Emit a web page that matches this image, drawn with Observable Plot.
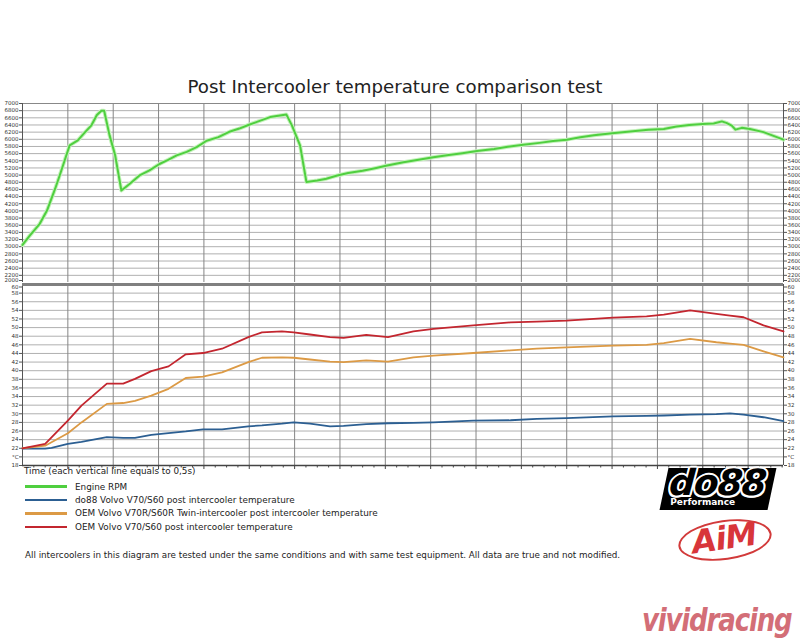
<!DOCTYPE html>
<html><head><meta charset="utf-8">
<script src="https://cdn.jsdelivr.net/npm/d3@7"></script>
<script src="https://cdn.jsdelivr.net/npm/@observablehq/plot@0.6"></script>
<style>
body{margin:0;background:#fff;}
#chart{position:relative;width:800px;height:640px;background:#fff;overflow:hidden;font-family:"DejaVu Sans",Verdana,sans-serif;color:#222;}
#chart svg{position:absolute;left:0;}
.title{position:absolute;left:-5px;top:76px;width:800px;text-align:center;font-size:18.2px;line-height:22px;color:#222;}
.xlabel{position:absolute;left:24px;top:464px;font-size:8.8px;line-height:14px;color:#222;}
.legend{position:absolute;left:25px;top:480px;}
.legend .row{height:13.4px;display:flex;align-items:center;font-size:8.85px;color:#222;}
.legend .sw{display:inline-block;width:42px;height:2.5px;margin-right:8px;}
.foot{position:absolute;left:25px;top:548px;font-size:8.75px;line-height:14px;color:#222;white-space:nowrap;}
.do88{position:absolute;left:664px;top:468px;width:108px;height:42px;background:#000;transform:skewX(-12deg);}
.do88 .big{position:absolute;left:4px;top:-6px;font-size:36px;font-weight:bold;font-style:italic;color:#000;letter-spacing:-1px;
  text-shadow:-1.5px -1.5px 0 #fff,1.5px -1.5px 0 #fff,-1.5px 1.5px 0 #fff,1.5px 1.5px 0 #fff,0 2px 0 #fff,0 -2px 0 #fff,2px 0 0 #fff,-2px 0 0 #fff;transform:skewX(8deg);}
.do88 .small{position:absolute;left:9px;top:29px;font-size:9px;font-weight:bold;color:#fff;transform:skewX(12deg);}
.aim{position:absolute;left:678px;top:520px;width:90px;height:36px;border:2px solid #d23a3a;border-radius:50%;transform:rotate(-8deg);}
.aim span{position:absolute;left:12px;top:-3px;font-size:32px;font-weight:bold;font-style:italic;color:#d8353a;letter-spacing:-1px;}
.vivid{position:absolute;left:642px;top:601px;font-family:"DejaVu Sans Condensed","DejaVu Sans",sans-serif;font-size:29px;font-weight:bold;font-style:italic;color:#cc5560;letter-spacing:-1.2px;transform:scaleY(1.12);transform-origin:top left;opacity:0.85;}
</style></head><body>
<div id="chart">
  <div class="title">Post Intercooler temperature comparison test</div>
</div>
<script>
// ---------- data ----------
const rpmTime = [0, 0.08, 0.19, 0.27, 0.36, 0.41, 0.47, 0.52, 0.61, 0.69, 0.76, 0.82, 0.87, 0.90, 0.96, 1.02, 1.09, 1.18, 1.29, 1.40, 1.51, 1.60, 1.70, 1.81, 1.92, 2.03, 2.16, 2.29, 2.39, 2.49, 2.60, 2.73, 2.82, 2.91, 2.97, 3.06, 3.13, 3.25, 3.35, 3.47, 3.59, 3.75, 3.90, 4.02, 4.20, 4.35, 4.53, 4.70, 4.85, 5.01, 5.20, 5.35, 5.52, 5.70, 5.85, 6.00, 6.15, 6.30, 6.50, 6.70, 6.90, 7.07, 7.21, 7.35, 7.50, 7.62, 7.71, 7.76, 7.82, 7.86, 7.93, 8.02, 8.17, 8.39];
const rpmValues = [3050, 3310, 3640, 4010, 4620, 4990, 5450, 5830, 5970, 6200, 6390, 6680, 6800, 6800, 6110, 5570, 4570, 4750, 4990, 5130, 5310, 5420, 5550, 5650, 5780, 5960, 6060, 6220, 6300, 6400, 6500, 6620, 6660, 6690, 6390, 5830, 4810, 4850, 4900, 4990, 5060, 5120, 5200, 5270, 5360, 5420, 5500, 5560, 5610, 5670, 5730, 5790, 5850, 5900, 5950, 5990, 6060, 6110, 6170, 6220, 6270, 6290, 6360, 6400, 6430, 6440, 6500, 6460, 6380, 6270, 6320, 6290, 6200, 5990];

const tempTime = [0, 0.25, 0.32, 0.5, 0.65, 0.93, 1.11, 1.24, 1.42, 1.61, 1.80, 1.99, 2.20, 2.49, 2.64, 2.86, 2.99, 3.17, 3.39, 3.54, 3.79, 4.03, 4.31, 4.53, 4.97, 5.38, 5.67, 6.0, 6.51, 6.88, 7.07, 7.36, 7.65, 7.80, 7.95, 8.17, 8.39];
const oemTemp = [22.0, 23.0, 24.5, 28.4, 31.9, 37.0, 37.0, 38.1, 39.9, 41.0, 43.8, 44.1, 45.1, 47.8, 48.9, 49.1, 48.9, 48.4, 47.8, 47.6, 48.3, 47.8, 49.1, 49.7, 50.5, 51.2, 51.4, 51.6, 52.3, 52.6, 53.0, 54.0, 53.2, 52.8, 52.4, 50.5, 49.1];
const twinTemp = [22.0, 22.6, 23.4, 25.5, 28.0, 32.3, 32.5, 33.0, 34.2, 35.8, 38.3, 38.6, 39.6, 42.0, 43.0, 43.1, 43.0, 42.6, 42.1, 42.0, 42.4, 42.1, 43.1, 43.5, 44.1, 44.7, 45.1, 45.4, 45.8, 46.0, 46.4, 47.4, 46.6, 46.3, 46.0, 44.5, 43.1];
const do88Temp = [21.9, 21.9, 22.1, 23.0, 23.5, 24.6, 24.4, 24.4, 25.1, 25.5, 25.9, 26.4, 26.4, 27.1, 27.3, 27.7, 28.0, 27.7, 27.1, 27.2, 27.6, 27.8, 27.9, 28.0, 28.4, 28.5, 28.8, 29.0, 29.4, 29.5, 29.6, 29.8, 29.9, 30.1, 29.8, 29.2, 28.3];

const rpmTicks = [2200, 2400, 2600, 2800, 3000, 3200, 3400, 3600, 3800, 4000, 4200, 4400, 4600, 4800, 5000, 5200, 5400, 5600, 5800, 6000, 6200, 6400, 6600, 6800, 7000];
const rpmBottomTick = [2000];
const tempTicks = [18, 20, 22, 24, 26, 28, 30, 32, 34, 36, 38, 40, 42, 44, 46, 48, 50, 52, 54, 56, 58];
const tempTopTick = [60];
const timeLines = [0.5, 1, 1.5, 2, 2.5, 3, 3.5, 4, 4.5, 5, 5.5, 6, 6.5, 7, 7.5, 8];
const minorTimeTicks = [0.125, 0.25, 0.375, 0.625, 0.75, 0.875, 1.125, 1.25, 1.375, 1.625, 1.75, 1.875, 2.125, 2.25, 2.375, 2.625, 2.75, 2.875, 3.125, 3.25, 3.375, 3.625, 3.75, 3.875, 4.125, 4.25, 4.375, 4.625, 4.75, 4.875, 5.125, 5.25, 5.375, 5.625, 5.75, 5.875, 6.125, 6.25, 6.375, 6.625, 6.75, 6.875, 7.125, 7.25, 7.375, 7.625, 7.75, 7.875, 8.125, 8.25, 8.375];
const timeDomain = [0, 8.39];

const legendLabels = ["Engine RPM", "do88 Volvo V70/S60 post intercooler temperature", "OEM Volvo V70R/S60R Twin-intercooler post intercooler temperature", "OEM Volvo V70/S60 post intercooler temperature"];
const seriesColors = ["#4fcf3f", "#2c5f92", "#dc9a45", "#c3262f"];

// ---------- tables ----------
const rpmData = rpmTime.map((t, i) => ({t, v: rpmValues[i]}));
const tempData = [];
[["do88", do88Temp], ["twin", twinTemp], ["oem", oemTemp]].forEach(([k, arr]) => {
  arr.forEach((v, i) => tempData.push({series: k, t: tempTime[i], v}));
});

const axisStyle = {fontFamily: "DejaVu Sans, sans-serif", color: "#333", background: "transparent", overflow: "visible"};
const tempFmt = d => d === 20 ? "°C" : d;
const ax = (ticks, anchor, fmt, dy) => Plot.axisY(ticks, {anchor, tickSize: 3, tickPadding: 1, tickFormat: fmt, label: null, fontSize: 5.5, stroke: "#555", dy});

// ---------- top panel: RPM ----------
const topPlot = Plot.plot({
  width: 800, height: 190,
  marginTop: 5, marginBottom: 6, marginLeft: 22, marginRight: 17,
  style: axisStyle,
  x: {domain: timeDomain, axis: null},
  y: {domain: [2000, 7000], axis: null},
  marks: [
    Plot.gridY(rpmTicks, {stroke: "#b0b0b0", strokeOpacity: 1}),
    Plot.gridX(timeLines, {stroke: "#858585", strokeOpacity: 1}),
    Plot.ruleY([7000], {stroke: "#888"}),
    Plot.ruleX([timeDomain[0]], {stroke: "#555"}),
    Plot.ruleX([timeDomain[1]], {stroke: "#555"}),
    ax(rpmTicks, "left", "d", 0),
    ax(rpmTicks, "right", "d", 0),
    ax(rpmBottomTick, "left", "d", -2),
    ax(rpmBottomTick, "right", "d", -2),
    Plot.line(rpmData, {x: "t", y: "v", stroke: "#c6f2bd", strokeWidth: 4}),
    Plot.line(rpmData, {x: "t", y: "v", stroke: seriesColors[0], strokeWidth: 2})
  ]
});
topPlot.style.top = "98px";

// ---------- bottom panel: temperatures ----------
const bottomPlot = Plot.plot({
  width: 800, height: 200,
  marginTop: 5, marginBottom: 14, marginLeft: 22, marginRight: 17,
  style: axisStyle,
  x: {domain: timeDomain, axis: null},
  y: {domain: [18, 60], axis: null},
  color: {domain: ["do88", "twin", "oem"], range: seriesColors.slice(1)},
  marks: [
    Plot.gridY(tempTicks, {stroke: "#b0b0b0", strokeOpacity: 1}),
    Plot.gridX(timeLines, {stroke: "#858585", strokeOpacity: 1}),
    Plot.ruleX([timeDomain[0]], {stroke: "#555"}),
    Plot.ruleX([timeDomain[1]], {stroke: "#555"}),
    ax(tempTicks, "left", tempFmt, 0),
    ax(tempTicks, "right", tempFmt, 0),
    ax(tempTopTick, "left", tempFmt, 2.5),
    ax(tempTopTick, "right", tempFmt, 2.5),
    Plot.axisX(minorTimeTicks, {anchor: "bottom", tickSize: 2.5, tickFormat: () => "", label: null, stroke: "#444"}),
    Plot.axisX(timeLines, {anchor: "bottom", tickSize: 4, tickFormat: () => "", label: null, stroke: "#444"}),
    Plot.line(tempData, {x: "t", y: "v", z: "series", stroke: "series", strokeWidth: 1.8}),
    Plot.ruleY([18], {stroke: "#444", strokeWidth: 1.5}),
    Plot.ruleY([60], {stroke: "#808080", strokeWidth: 3})
  ]
});
bottomPlot.style.top = "279px";

const chart = document.getElementById("chart");
chart.appendChild(topPlot);
chart.appendChild(bottomPlot);

// ---------- texts, legend ----------
const xl = document.createElement("div");
xl.className = "xlabel";
xl.textContent = "Time (each vertical line equals to 0,5s)";
chart.appendChild(xl);

const legend = document.createElement("div");
legend.className = "legend";
legendLabels.forEach((lab, i) => {
  const row = document.createElement("div");
  row.className = "row";
  const sw = document.createElement("span");
  sw.className = "sw";
  sw.style.background = seriesColors[i];
  row.appendChild(sw);
  row.appendChild(document.createTextNode(lab));
  legend.appendChild(row);
});
chart.appendChild(legend);

const foot = document.createElement("div");
foot.className = "foot";
foot.textContent = "All intercoolers in this diagram are tested under the same conditions and with same test equipment. All data are true and not modified.";
chart.appendChild(foot);

// ---------- logos (as text) ----------
const do88 = document.createElement("div");
do88.className = "do88";
do88.innerHTML = '<span class="big">do88</span><span class="small">Performance</span>';
chart.appendChild(do88);

const aim = document.createElement("div");
aim.className = "aim";
aim.innerHTML = '<span>AiM</span>';
chart.appendChild(aim);

const vivid = document.createElement("div");
vivid.className = "vivid";
vivid.textContent = "vividracing";
chart.appendChild(vivid);
</script>
</body></html>
